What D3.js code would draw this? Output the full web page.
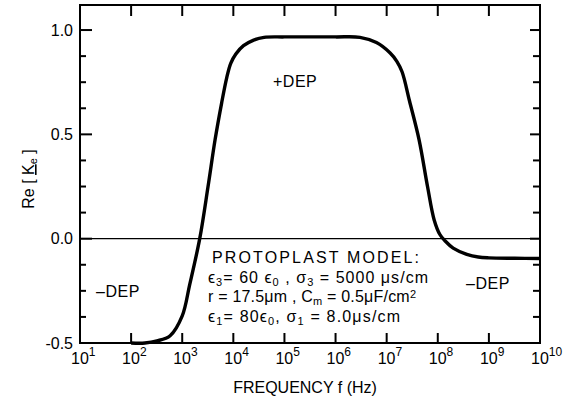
<!DOCTYPE html>
<html>
<head>
<meta charset="utf-8">
<script src="https://cdn.jsdelivr.net/npm/d3@7"></script>
<style>
    body { margin: 0; background: #fff; }
    text { font-family: "Liberation Sans", Arial, sans-serif; fill: #000; }
</style>
</head>
<body>
<div id="chart"></div>
<script>
// frequency in Hz and Re[K_e]
const frequency = [1.0e2, 1.86e2, 3.2e2, 5.8e2, 1.0e3, 1.4e3, 2.2e3, 3.2e3, 4.4e3, 5.9e3, 7.4e3,
    8.9e3, 1.12e4, 1.58e4, 2.5e4, 4.0e4, 1.0e5, 1.0e6, 3.0e6, 6.3e6, 1.17e7,
    1.58e7, 2.0e7, 2.8e7, 4.3e7, 6.3e7, 8.5e7, 1.1e8, 1.38e8, 2.0e8, 3.7e8, 6.2e8, 1.0e9, 3.2e9, 1.0e10];
const reK = [-0.5, -0.5, -0.49, -0.465, -0.37, -0.22, 0.0, 0.25, 0.475, 0.65, 0.77,
    0.84, 0.885, 0.925, 0.952, 0.965, 0.967, 0.967, 0.965, 0.94, 0.89,
    0.85, 0.80, 0.66, 0.475, 0.25, 0.09, 0.02, -0.01, -0.045, -0.075, -0.088, -0.092, -0.094, -0.095];

const decades = [1, 2, 3, 4, 5, 6, 7, 8, 9, 10];
const yMajorTicks = [-0.5, 0.0, 0.5, 1.0];
const yMinorTicks = [-0.375, -0.25, -0.125, 0.125, 0.25, 0.375, 0.625, 0.75, 0.875];
const yTickLabels = ["-0.5", "0.0", "0.5", "1.0"];

const modelLines = [
    [["PROTOPLAST MODEL:"]],
    [["ϵ"], ["3", "sub"], ["= 60 ϵ"], ["0", "sub"], [" , σ"], ["3", "sub"], [" = 5000 μs/cm"]],
    [["r = 17.5μm , C"], ["m", "sub"], [" = 0.5μF/cm"], ["2", "sup"]],
    [["ϵ"], ["1", "sub"], ["= 80ϵ"], ["0", "sub"], [", σ"], ["1", "sub"], [" = 8.0μs/cm"]]
];
const modelWidths = [207, 220, 208, 192];

const width = 564;
const height = 402;
const margin = { top: 5, right: 24, bottom: 59, left: 80 };

const svg = d3.select("#chart")
    .append("svg")
    .attr("width", width)
    .attr("height", height);

const x = d3.scaleLog()
    .domain([1e1, 1e10])
    .range([margin.left, width - margin.right]);

const y = d3.scaleLinear()
    .domain([-0.5, 1.12])
    .range([height - margin.bottom, margin.top]);

const x0 = margin.left, x1 = width - margin.right;
const y0 = height - margin.bottom, y1 = margin.top;

// zero line
svg.append("line")
    .attr("x1", x0).attr("x2", x1)
    .attr("y1", y(0)).attr("y2", y(0))
    .attr("stroke", "#000")
    .attr("stroke-width", 1.3);

// ticks
const ticks = svg.append("g").attr("stroke", "#000").attr("stroke-width", 2);

decades.forEach(e => {
    const px = x(10 ** e);
    ticks.append("line").attr("x1", px).attr("x2", px).attr("y1", y1).attr("y2", y1 + 11);
    ticks.append("line").attr("x1", px).attr("x2", px).attr("y1", y0).attr("y2", y0 - 10);
});

yMajorTicks.forEach(v => {
    ticks.append("line").attr("x1", x0).attr("x2", x0 + 12).attr("y1", y(v)).attr("y2", y(v));
    ticks.append("line").attr("x1", x1).attr("x2", x1 - 10).attr("y1", y(v)).attr("y2", y(v));
});
yMinorTicks.forEach(v => {
    ticks.append("line").attr("x1", x0).attr("x2", x0 + 6).attr("y1", y(v)).attr("y2", y(v));
    ticks.append("line").attr("x1", x1).attr("x2", x1 - 7).attr("y1", y(v)).attr("y2", y(v));
});

// frame
svg.append("rect")
    .attr("x", x0).attr("y", y1)
    .attr("width", x1 - x0).attr("height", y0 - y1)
    .attr("fill", "none")
    .attr("stroke", "#000")
    .attr("stroke-width", 2);

// curve
const line = d3.line()
    .x((d, i) => x(frequency[i]))
    .y(d => y(d))
    .curve(d3.curveCatmullRom.alpha(0.5));

svg.append("path")
    .datum(reK)
    .attr("d", line)
    .attr("fill", "none")
    .attr("stroke", "#000")
    .attr("stroke-width", 3.4)
    .attr("stroke-linejoin", "round");

// y tick labels
yMajorTicks.forEach((v, i) => {
    svg.append("text")
        .attr("x", x0 - 7)
        .attr("y", y(v))
        .attr("dy", "0.36em")
        .attr("text-anchor", "end")
        .style("font-size", "16px")
        .text(yTickLabels[i]);
});

// x tick labels 10^n
decades.forEach(e => {
    const t = svg.append("text")
        .attr("x", x(10 ** e) - 9)
        .attr("y", y0 + 21)
        .style("font-size", "16px");
    t.append("tspan").text("10");
    t.append("tspan").attr("dy", -8).style("font-size", "12px").text(e);
});

svg.append("text")
    .attr("x", 305)
    .attr("y", 393)
    .attr("text-anchor", "middle")
    .style("font-size", "16px")
    .text("FREQUENCY f (Hz)");

// y axis label Re[K_e]
const yl = svg.append("text")
    .attr("transform", "translate(34,179) rotate(-90)")
    .attr("text-anchor", "middle")
    .style("font-size", "16px");
yl.append("tspan").text("Re [ ");
yl.append("tspan").style("text-decoration", "underline").text("K");
yl.append("tspan").attr("dy", 3).style("font-size", "11px").text("e");
yl.append("tspan").attr("dy", -3).text(" ]");

// region labels
const regionLabels = [
    { text: "+DEP", x: 273, y: 87 },
    { text: "–DEP", x: 96, y: 297 },
    { text: "–DEP", x: 466, y: 289 }
];
regionLabels.forEach(d => {
    svg.append("text")
        .attr("x", d.x)
        .attr("y", d.y)
        .style("font-size", "16px")
        .style("letter-spacing", "0.5px")
        .text(d.text);
});

// model parameters
modelLines.forEach((parts, i) => {
    const t = svg.append("text")
        .attr("x", i === 0 ? 212 : 208)
        .attr("y", 263 + i * 19.5)
        .attr("textLength", modelWidths[i])
        .attr("lengthAdjust", "spacing")
        .style("font-size", "16px");
    parts.forEach(([s, kind]) => {
        const ts = t.append("tspan").text(s);
        if (kind === "sub") ts.attr("baseline-shift", "-25%").style("font-size", "11px");
        if (kind === "sup") ts.attr("baseline-shift", "40%").style("font-size", "11px");
    });
});
</script>
</body>
</html>
